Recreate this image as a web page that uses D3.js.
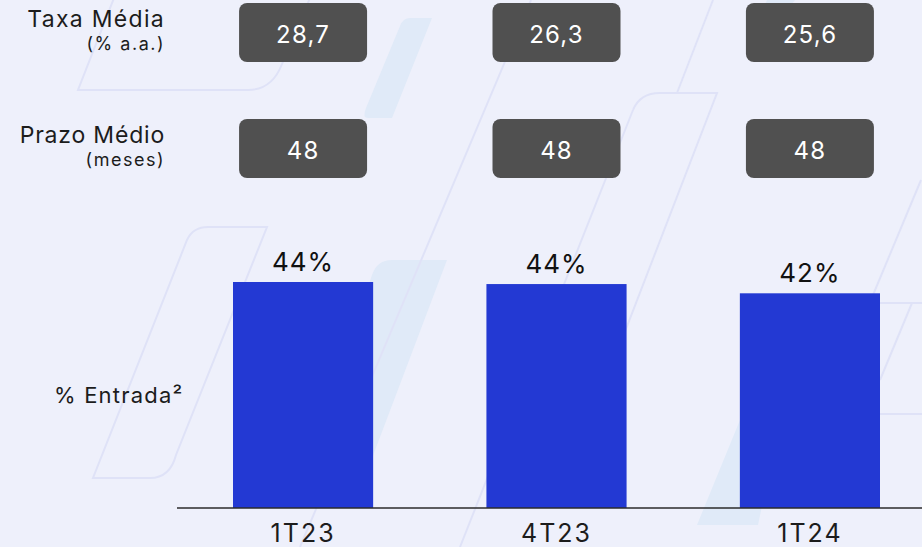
<!DOCTYPE html>
<html>
<head>
<meta charset="utf-8">
<script src="https://cdn.jsdelivr.net/npm/d3@7"></script>
<style>
  body { margin: 0; background: #eef0fb; }
  svg { display: block; font-family: Inter, "Noto Sans", sans-serif; }
</style>
</head>
<body>
<div id="chart"></div>
<script>
// data
var categories = ["1T23", "4T23", "1T24"];
var entrada = [44.0, 43.6, 41.8];
var taxaMedia = ["28,7", "26,3", "25,6"];
var prazoMedio = ["48", "48", "48"];
var rowTitles = ["Taxa Média", "Prazo Médio"];
var rowSubs = ["(% a.a.)", "(meses)"];

var svgWidth = 922;
var svgHeight = 547;

var svg = d3.select("#chart")
  .append("svg")
  .attr("width", svgWidth)
  .attr("height", svgHeight);

svg.append("rect")
  .attr("width", svgWidth)
  .attr("height", svgHeight)
  .attr("fill", "#eef0fb");

// faint background decoration (brand shapes)
var decoLines = [
  "M114,-2 L78,90 L248,90 Q272,90 282,64 L310,-2",
  "M187,240 Q193,227 208,227 L267,227 L176,455 Q170,478 150,478 L93,478 Z",
  "M713,0 L677,93",
  "M633,110 Q640,93 660,93 L717,93 L560,500",
  "M633,110 L460,547",
  "M531,0 L300,547",
  "M921,180 L873,295",
  "M880,303 L922,303",
  "M912,303 L880,380",
  "M880,414 L922,414"
];
var decoFills = [
  "M410,18 L432,18 L392,118 L368,118 Q362,118 366,108 L400,26 Q403,18 410,18 Z",
  "M392,260 L447,260 L360,490 L300,490 L372,275 Q377,260 392,260 Z",
  "M740,420 L780,420 L758,525 L697,525 Z",
  "M767,0 L795,0 L785,12 L762,12 Z"
];

var deco = svg.append("g");
deco.selectAll("path.fill")
  .data(decoFills)
  .enter()
  .append("path")
  .attr("class", "fill")
  .attr("d", d => d)
  .attr("fill", "#e0eaf8");
deco.selectAll("path.line")
  .data(decoLines)
  .enter()
  .append("path")
  .attr("class", "line")
  .attr("d", d => d)
  .attr("fill", "none")
  .attr("stroke", "#dfe2f7")
  .attr("stroke-width", 2);

var xScale = d3.scaleBand()
  .domain(categories)
  .range([233, 880])
  .paddingInner(0.447)
  .paddingOuter(0);

var yScale = d3.scaleLinear()
  .domain([0, 44])
  .range([508, 282]);

// top rows: boxes with values
var rows = [taxaMedia, prazoMedio];
var rowTop = [3, 119];
var boxW = 128, boxH = 59;

rows.forEach(function(vals, i) {
  var g = svg.append("g")
    .attr("transform", `translate(0, ${rowTop[i]})`);

  g.append("text")
    .attr("x", 165)
    .attr("y", 24)
    .attr("text-anchor", "end")
    .attr("font-size", 23)
    .attr("letter-spacing", i === 0 ? 1.3 : 0.8)
    .attr("fill", "#1c1c1c")
    .text(rowTitles[i]);

  g.append("text")
    .attr("x", 165)
    .attr("y", 47)
    .attr("text-anchor", "end")
    .attr("font-size", 18)
    .attr("letter-spacing", 1.5)
    .attr("fill", "#1c1c1c")
    .text(rowSubs[i]);

  var cells = g.selectAll("g.cell")
    .data(vals)
    .enter()
    .append("g")
    .attr("class", "cell")
    .attr("transform", (d, j) => `translate(${xScale(categories[j]) + xScale.bandwidth() / 2}, 0)`);

  cells.append("rect")
    .attr("x", -boxW / 2)
    .attr("y", 0)
    .attr("width", boxW)
    .attr("height", boxH)
    .attr("rx", 8)
    .attr("fill", "#505050");

  cells.append("text")
    .attr("y", 40)
    .attr("text-anchor", "middle")
    .attr("font-size", 24)
    .attr("letter-spacing", 1.2)
    .attr("fill", "#ffffff")
    .text(d => d);
});

// bars
svg.append("text")
  .attr("x", 54)
  .attr("y", 403)
  .attr("font-size", 22)
  .attr("letter-spacing", 1.2)
  .attr("fill", "#1c1c1c")
  .text("% Entrada²");

svg.selectAll("rect.bar")
  .data(entrada)
  .enter()
  .append("rect")
  .attr("class", "bar")
  .attr("x", (d, i) => xScale(categories[i]))
  .attr("y", d => yScale(d))
  .attr("width", xScale.bandwidth())
  .attr("height", d => yScale(0) - yScale(d))
  .attr("fill", "#2339d3");

svg.selectAll("text.val")
  .data(entrada)
  .enter()
  .append("text")
  .attr("class", "val")
  .attr("x", (d, i) => xScale(categories[i]) + xScale.bandwidth() / 2)
  .attr("y", d => yScale(d) - 11)
  .attr("text-anchor", "middle")
  .attr("font-size", 26)
  .attr("letter-spacing", 1)
  .attr("fill", "#111")
  .text(d => d3.format(".0f")(d) + "%");

svg.append("line")
  .attr("x1", 177)
  .attr("x2", 922)
  .attr("y1", yScale(0))
  .attr("y2", yScale(0))
  .attr("stroke", "#2b2b2b")
  .attr("stroke-width", 1.5);

var xAxis = svg.append("g")
  .attr("transform", `translate(0, ${yScale(0)})`)
  .call(d3.axisBottom(xScale).tickSize(0).tickPadding(16));

xAxis.select(".domain").remove();
xAxis.selectAll("text")
  .attr("font-family", "Inter, 'Noto Sans', sans-serif")
  .attr("font-size", 25)
  .attr("letter-spacing", 2)
  .attr("fill", "#1c1c1c");
</script>
</body>
</html>
